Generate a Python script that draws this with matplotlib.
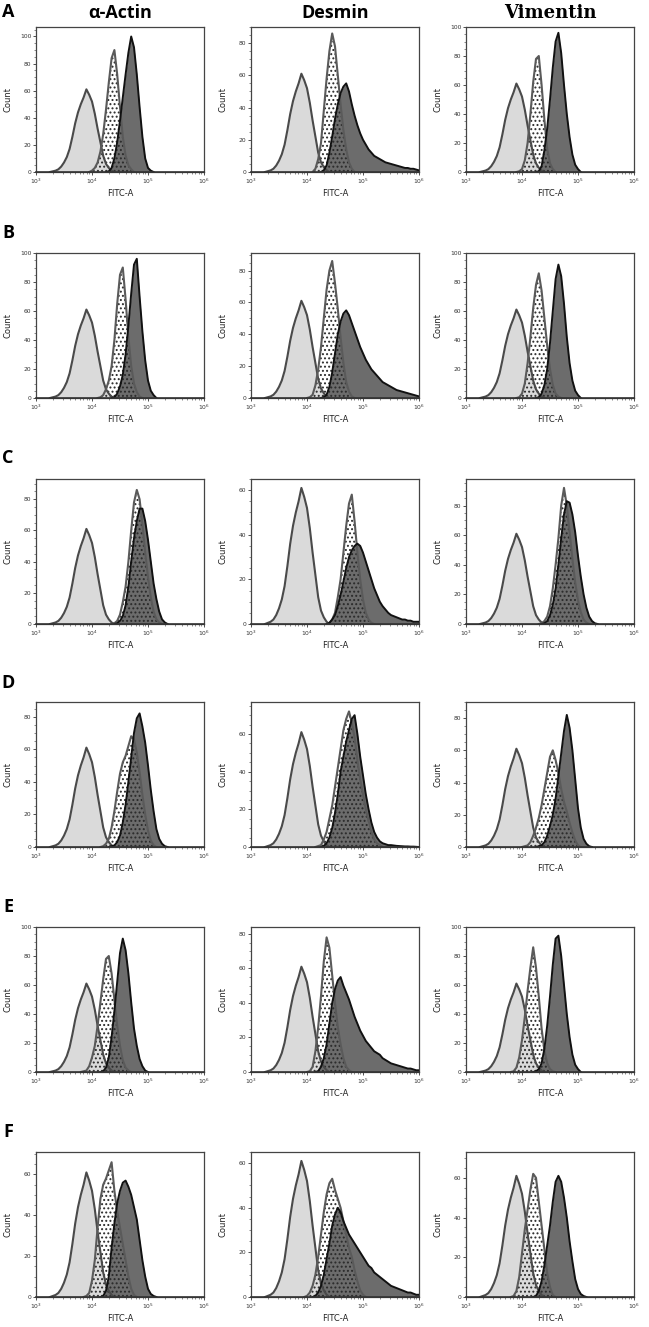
import numpy as np
import matplotlib
matplotlib.use("Agg")
import matplotlib.pyplot as plt
from matplotlib.ticker import MultipleLocator, LogLocator, LogFormatterMathtext

# column / row labels
markers = ["α-Actin", "Desmin", "Vimentin"]
rows = ["A", "B", "C", "D", "E", "F"]

# each histogram: (log10 of first bin, counts every 0.05 decade)
iso = (3.30, [0.5, 1, 2, 4, 7, 11, 17, 26, 36, 44, 50, 55, 61, 57, 52, 43, 32, 22, 12, 6, 3, 1])

A_act_dot = (4.00, [1, 3, 7, 15, 28, 46, 66, 84, 90, 72, 48, 26, 12, 5, 2])
A_act_dark = (4.30, [0.5, 3, 10, 22, 38, 55, 72, 88, 100, 92, 72, 48, 26, 10, 3, 1])
A_des_dot = (4.15, [2, 8, 18, 38, 58, 75, 86, 78, 60, 42, 26, 14, 6, 2])
A_des_dark = (4.30, [1, 4, 12, 22, 33, 42, 49, 53, 55, 50, 42, 35, 29, 24, 20, 17, 14, 12, 10, 9,
                     8, 7, 6, 5.5, 5, 4.5, 4, 3.5, 3, 2.5, 2.5, 2, 2, 1.5, 1])
A_vim_dot = (3.95, [0.5, 2, 8, 20, 40, 62, 78, 80, 60, 36, 16, 6, 2])
A_vim_dark = (4.30, [0.5, 4, 15, 30, 50, 72, 90, 96, 82, 60, 40, 24, 12, 5, 2])

B_act_dot = (4.15, [0.5, 2, 6, 12, 22, 40, 65, 85, 90, 68, 42, 22, 10, 4, 1])
B_act_dark = (4.40, [0.5, 3, 8, 16, 30, 50, 72, 92, 96, 70, 46, 26, 12, 5, 2])
B_des_dot = (4.05, [0.5, 2, 8, 18, 32, 50, 68, 80, 86, 72, 56, 38, 22, 10, 4, 1])
B_des_dark = (4.30, [0.5, 2, 7, 16, 28, 40, 48, 53, 55, 52, 47, 42, 37, 32, 28, 24, 21, 18, 16, 14,
                     12, 10, 9, 8, 7, 6, 5, 4.5, 4, 3.5, 3, 2.5, 2, 1.5, 1])
B_vim_dot = (3.95, [0.5, 3, 10, 24, 42, 62, 78, 86, 74, 55, 36, 20, 9, 3, 1])
B_vim_dark = (4.30, [0.5, 3, 9, 20, 38, 60, 82, 92, 84, 65, 42, 24, 12, 5, 2])

C_act_dot = (4.40, [0.5, 2, 6, 14, 24, 40, 60, 78, 86, 80, 64, 46, 30, 17, 8, 3, 1])
C_act_dark = (4.45, [0.5, 2, 5, 12, 24, 40, 55, 66, 74, 74, 66, 54, 40, 26, 16, 8, 3, 1])
C_des_dot = (4.40, [0.5, 2, 5, 12, 20, 32, 44, 54, 58, 46, 32, 20, 11, 5, 2, 0.5])
C_des_dark = (4.40, [0.5, 2, 4, 8, 13, 19, 25, 30, 33, 35, 36, 35, 32, 28, 24, 20, 16, 13, 10, 8,
                     6.5, 5, 4, 3.5, 3, 2.5, 2, 2, 1.5, 1.5, 1, 1, 1])
C_vim_dot = (4.35, [0.5, 2, 5, 12, 24, 40, 58, 80, 92, 80, 62, 44, 28, 16, 8, 3, 1])
C_vim_dark = (4.40, [0.5, 2, 6, 13, 24, 40, 58, 74, 83, 82, 74, 62, 46, 32, 20, 11, 5, 2, 0.5])

D_act_dot = (4.20, [0.5, 2, 5, 12, 22, 34, 45, 52, 56, 62, 68, 66, 58, 46, 32, 20, 10, 4, 1])
D_act_dark = (4.35, [0.5, 1, 3, 7, 15, 26, 40, 55, 70, 79, 82, 74, 64, 50, 35, 22, 11, 5, 2, 0.5])
D_des_dot = (4.20, [0.5, 1, 4, 8, 15, 22, 32, 42, 52, 62, 68, 72, 66, 58, 46, 36, 28, 20, 14, 8, 4, 2, 1])
D_des_dark = (4.30, [0.5, 2, 5, 10, 18, 28, 40, 48, 56, 62, 68, 70, 60, 48, 38, 28, 20, 13, 8, 5,
                     3, 2, 1.5, 1, 1, 0.8, 0.6, 0.5, 0.4, 0.3, 0.3, 0.2, 0.2, 0.1])
D_vim_dot = (4.05, [0.5, 1, 3, 7, 12, 18, 26, 36, 46, 56, 60, 54, 46, 36, 28, 22, 15, 9, 4, 1])
D_vim_dark = (4.30, [0.5, 1, 3, 7, 13, 20, 30, 44, 58, 72, 82, 74, 60, 42, 24, 12, 5, 2, 0.5])

E_act_dot = (3.85, [0.5, 1, 4, 10, 18, 32, 48, 64, 78, 80, 68, 50, 32, 18, 8, 3, 1])
E_act_dark = (4.20, [0.5, 3, 10, 24, 42, 62, 82, 92, 84, 68, 48, 30, 18, 9, 4, 1])
E_des_dot = (4.05, [0.5, 3, 12, 26, 44, 64, 78, 72, 56, 40, 26, 16, 8, 3, 1])
E_des_dark = (4.20, [0.5, 3, 8, 16, 28, 40, 48, 53, 55, 50, 46, 42, 37, 32, 28, 24, 21, 18, 16, 14,
                     12, 11, 10, 8, 7, 6, 5, 4.5, 4, 3.5, 3, 2.5, 2, 2, 1.5, 1, 1])
E_vim_dot = (3.85, [0.5, 3, 10, 22, 38, 56, 72, 86, 72, 52, 30, 15, 6, 2, 0.5])
E_vim_dark = (4.25, [0.5, 2, 6, 16, 32, 52, 74, 92, 94, 80, 60, 40, 24, 12, 5, 2])

F_act_dot = (3.90, [0.5, 2, 8, 18, 34, 48, 55, 58, 62, 66, 52, 42, 34, 26, 18, 10, 4, 1])
F_act_dark = (4.20, [0.5, 3, 10, 24, 36, 46, 52, 56, 57, 54, 50, 44, 38, 28, 18, 10, 4, 1.5, 0.5])
F_des_dot = (4.00, [0.5, 2, 5, 10, 18, 28, 38, 46, 51, 53, 48, 44, 40, 34, 28, 22, 18, 12, 7, 3, 1])
F_des_dark = (4.15, [0.5, 2, 5, 10, 17, 24, 32, 37, 40, 38, 34, 31, 28, 26, 24, 22, 20, 18, 16, 14,
                     13, 11, 10, 9, 8, 7, 6, 5, 4.5, 4, 3.5, 3, 2.5, 2, 2, 1.5, 1, 1])
F_vim_dot = (3.85, [0.5, 3, 10, 22, 34, 44, 54, 62, 60, 48, 36, 24, 12, 5, 1])
F_vim_dark = (4.25, [0.5, 3, 8, 16, 26, 36, 48, 58, 61, 58, 50, 40, 28, 18, 9, 4, 1.5, 0.5])

dotted = [[A_act_dot, A_des_dot, A_vim_dot],
          [B_act_dot, B_des_dot, B_vim_dot],
          [C_act_dot, C_des_dot, C_vim_dot],
          [D_act_dot, D_des_dot, D_vim_dot],
          [E_act_dot, E_des_dot, E_vim_dot],
          [F_act_dot, F_des_dot, F_vim_dot]]
dark = [[A_act_dark, A_des_dark, A_vim_dark],
        [B_act_dark, B_des_dark, B_vim_dark],
        [C_act_dark, C_des_dark, C_vim_dark],
        [D_act_dark, D_des_dark, D_vim_dark],
        [E_act_dark, E_des_dark, E_vim_dark],
        [F_act_dark, F_des_dark, F_vim_dark]]

# y-axis tops per panel
ymax = [[107, 90, 100],
        [100, 91, 100],
        [93, 65, 98],
        [89, 77, 90],
        [100, 84, 100],
        [71, 65, 73]]


def hist_xy(spec):
    start, vals = spec
    step = 0.05
    logs = start + step * np.arange(-1, len(vals) + 1)
    y = np.concatenate([[0], vals, [0]])
    return 10 ** logs, y


W, H = 649, 1327
plt.rcParams['hatch.linewidth'] = 0.9
fig = plt.figure(figsize=(W / 100, H / 100), dpi=100)

col_left = [36, 251, 466]
col_w = 168
row_top = [27, 253, 479, 702, 927, 1152]
row_h = 145
row_label_y = [12, 233, 458, 683, 907, 1132]

for i in range(6):
    for j in range(3):
        ax = fig.add_axes([col_left[j] / W, 1 - (row_top[i] + row_h) / H, col_w / W, row_h / H])
        xi, yi = hist_xy(iso)
        xd, yd = hist_xy(dotted[i][j])
        xk, yk = hist_xy(dark[i][j])

        ax.fill_between(xi, yi, color="#dadada", lw=0, zorder=1)
        ax.fill_between(xk, yk, color="#6c6c6c", lw=0, zorder=2)
        ax.fill_between(xd, yd, facecolor="none", edgecolor="#2a2a2a", hatch="....", lw=0, zorder=3)
        ax.plot(xi, yi, color="#4a4a4a", lw=1.5, zorder=4)
        ax.plot(xd, yd, color="#5a5a5a", lw=1.5, zorder=5)
        ax.plot(xk, yk, color="#111111", lw=1.4, zorder=6)
        ax.plot([1e3, 1e6], [0, 0], color="#333333", lw=1.2, zorder=7, clip_on=False)

        ax.set_xscale("log")
        ax.set_xlim(1e3, 1e6)
        ax.set_ylim(0, ymax[i][j])
        ax.xaxis.set_major_locator(LogLocator(base=10, numticks=5))
        ax.xaxis.set_major_formatter(LogFormatterMathtext())
        ax.yaxis.set_major_locator(MultipleLocator(20))
        ax.yaxis.set_minor_locator(MultipleLocator(5))
        ax.tick_params(axis="both", which="major", direction="out", length=2.2, width=0.6,
                       labelsize=4.3, pad=1.2, colors="#333333")
        ax.tick_params(axis="both", which="minor", direction="out", length=1.2, width=0.4,
                       colors="#333333")
        for s in ax.spines.values():
            s.set_color("#444444")
            s.set_linewidth(0.9)
        ax.set_xlabel("FITC-A", fontsize=6, color="#222222")
        ax.xaxis.set_label_coords(0.5, -0.12)
        ax.set_ylabel("Count", fontsize=6, color="#222222")
        ax.yaxis.set_label_coords(-0.14, 0.5)

for j in range(3):
    cx = (col_left[j] + col_w / 2) / W
    if j == 2:
        fig.text(cx, 1 - 13 / H, markers[j], ha="center", va="center", fontsize=13,
                 fontweight="bold", family=["DejaVu Serif"])
    else:
        fig.text(cx, 1 - 13 / H, markers[j], ha="center", va="center", fontsize=13,
                 fontweight="bold", family=["Open Sans", "DejaVu Sans"])

for i in range(6):
    fig.text(8 / W, 1 - row_label_y[i] / H, rows[i], ha="center", va="center", fontsize=13,
             fontweight="bold", family=["Open Sans", "DejaVu Sans"])

fig.savefig("out.png", dpi=100)
